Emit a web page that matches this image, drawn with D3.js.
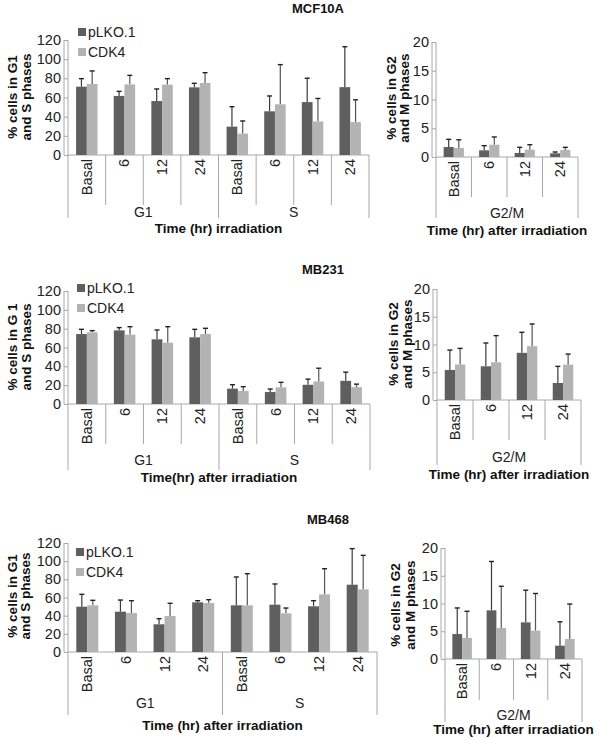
<!DOCTYPE html>
<html>
<head>
<meta charset="utf-8">
<script src="https://cdn.jsdelivr.net/npm/d3@7"></script>
<style>
  html, body { margin: 0; padding: 0; background: #fff; }
  svg { display: block; font-family: "Liberation Sans", Arial, sans-serif; }
</style>
</head>
<body>
<svg id="chart" width="600" height="738"></svg>
<script>
// ---------------- DATA ----------------
const cellLines = ["MCF10A", "MB231", "MB468"];
const seriesNames = ["pLKO.1", "CDK4"];
const timepoints = ["Basal", "6", "12", "24"];
const leftPhases = ["G1", "S"];
const rightPhases = ["G2/M"];
const leftTicks = [0, 20, 40, 60, 80, 100, 120];
const rightTicks = [0, 5, 10, 15, 20];

// G1 + S (8 values: G1 Basal,6,12,24, S Basal,6,12,24)
const mcf10a_pLKO = [71.3, 61.6, 56.3, 70.6, 29.6, 45.6, 55.2, 70.8];
const mcf10a_pLKO_err = [8.4, 4.8, 12.6, 4.2, 20.8, 16.0, 24.9, 42.2];
const mcf10a_CDK4 = [74.1, 73.7, 73.4, 75.1, 22.3, 52.9, 35.0, 34.3];
const mcf10a_CDK4_err = [13.6, 9.4, 6.3, 10.8, 13.2, 41.4, 24.0, 23.3];
const mcf10a_G2M_pLKO = [1.74, 1.16, 0.70, 0.64];
const mcf10a_G2M_pLKO_err = [1.33, 0.81, 0.98, 0.23];
const mcf10a_G2M_CDK4 = [1.57, 2.14, 1.28, 1.22];
const mcf10a_G2M_CDK4_err = [1.43, 1.34, 0.86, 0.46];

const mb231_pLKO = [74.3, 78.2, 68.7, 70.8, 16.3, 12.7, 20.4, 24.6];
const mb231_pLKO_err = [5.0, 2.9, 9.9, 8.5, 4.2, 3.2, 6.0, 9.2];
const mb231_CDK4 = [76.1, 73.6, 65.1, 74.3, 13.8, 17.7, 23.9, 17.9];
const mb231_CDK4_err = [1.8, 8.5, 17.0, 6.1, 4.6, 5.3, 14.1, 3.2];
const mb231_G2M_pLKO = [5.4, 6.07, 8.5, 3.06];
const mb231_G2M_pLKO_err = [3.6, 4.2, 3.7, 3.0];
const mb231_G2M_CDK4 = [6.4, 6.8, 9.7, 6.37];
const mb231_G2M_CDK4_err = [2.9, 4.8, 4.0, 1.9];

const mb468_pLKO = [49.9, 44.4, 30.5, 54.7, 51.4, 52.1, 50.3, 74.1];
const mb468_pLKO_err = [13.6, 12.8, 6.2, 1.8, 31.2, 22.8, 6.2, 39.7];
const mb468_CDK4 = [51.4, 42.9, 39.6, 53.9, 51.4, 42.6, 63.5, 69.0];
const mb468_CDK4_err = [5.5, 13.6, 14.0, 3.7, 34.8, 5.8, 28.2, 37.4];
const mb468_G2M_pLKO = [4.5, 8.77, 6.6, 2.4];
const mb468_G2M_pLKO_err = [4.7, 8.8, 5.8, 4.3];
const mb468_G2M_CDK4 = [3.8, 5.6, 5.1, 3.6];
const mb468_G2M_CDK4_err = [4.8, 7.5, 6.7, 6.3];

// ---------------- LAYOUT ----------------
const colors = { "pLKO.1": "#5f5f5f", "CDK4": "#b3b3b3" };
const errColors = { "pLKO.1": "#3a3a3a", "CDK4": "#555555" };
const axisColor = "#a8a8a8";

const rows = [
  {
    name: cellLines[0], titleX: 318, titleY: 8,
    left: { vals: [mcf10a_pLKO, mcf10a_CDK4], errs: [mcf10a_pLKO_err, mcf10a_CDK4_err],
      x0: 68, x1: 369, yTop: 40, y0: 155, sepBottom: 205, outerBottom: 218, minorSeps: true,
      groupY: 212, axisTitle: "Time (hr) irradiation", axisTitleY: 228,
      yTitle: ["% cells in G1", "and S phases"], yTitleX: [12, 26], yTitleY: 97 },
    right: { vals: [mcf10a_G2M_pLKO, mcf10a_G2M_CDK4], errs: [mcf10a_G2M_pLKO_err, mcf10a_G2M_CDK4_err],
      x0: 436, x1: 578, yTop: 42, y0: 157, sepBottom: 197, outerBottom: 218,
      groupY: 213, axisTitle: "Time (hr) after irradiation", axisTitleY: 230,
      yTitle: ["% cells in G2", "and M phases"], yTitleX: [391, 404], yTitleY: 98 },
    legend: { x: 78, y: [32, 52] }
  },
  {
    name: cellLines[1], titleX: 323, titleY: 269,
    left: { vals: [mb231_pLKO, mb231_CDK4], errs: [mb231_pLKO_err, mb231_CDK4_err],
      x0: 68, x1: 370, yTop: 291, y0: 404, sepBottom: 444, outerBottom: 470, minorSeps: true,
      groupY: 460, axisTitle: "Time(hr) after irradiation", axisTitleY: 477,
      yTitle: ["% cells in G 1", "and S phases"], yTitleX: [12, 26], yTitleY: 347 },
    right: { vals: [mb231_G2M_pLKO, mb231_G2M_CDK4], errs: [mb231_G2M_pLKO_err, mb231_G2M_CDK4_err],
      x0: 437, x1: 581, yTop: 289, y0: 400, sepBottom: 440, outerBottom: 465,
      groupY: 457, axisTitle: "Time (hr) after irradiation", axisTitleY: 474,
      yTitle: ["% cells in G2", "and M phases"], yTitleX: [393, 407], yTitleY: 344 },
    legend: { x: 77, y: [288, 308] }
  },
  {
    name: cellLines[2], titleX: 328, titleY: 519,
    left: { vals: [mb468_pLKO, mb468_CDK4], errs: [mb468_pLKO_err, mb468_CDK4_err],
      x0: 68, x1: 377, yTop: 543, y0: 652, sepBottom: 715, outerBottom: 715, minorSeps: false,
      groupY: 703, axisTitle: "Time (hr) after irradiation", axisTitleY: 725,
      yTitle: ["% cells in G1", "and S phases"], yTitleX: [12, 25], yTitleY: 596 },
    right: { vals: [mb468_G2M_pLKO, mb468_G2M_CDK4], errs: [mb468_G2M_pLKO_err, mb468_G2M_CDK4_err],
      x0: 445, x1: 582, yTop: 548, y0: 659, sepBottom: 700, outerBottom: 722,
      groupY: 715, axisTitle: "Time (hr) after irradiation", axisTitleY: 729,
      yTitle: ["% cells in G2", "and M phases"], yTitleX: [395, 410], yTitleY: 605 },
    legend: { x: 76, y: [552, 572] }
  }
];

const svg = d3.select("#chart");

function drawPanel(p, phases, maxV, ticks) {
  const g = svg.append("g");
  const cats = [];
  phases.forEach(ph => timepoints.forEach(t => cats.push(ph + "|" + t)));
  const x = d3.scaleBand().domain(cats).range([p.x0, p.x1]).padding(0);
  const bw = x.bandwidth();
  const inner = d3.scaleBand().domain(seriesNames).range([0, bw * 0.57]).padding(0);
  const off = (bw - bw * 0.57) / 2;
  const y = d3.scaleLinear().domain([0, maxV]).range([p.y0, p.yTop]);

  // y axis
  const ax = g.append("g").attr("transform", `translate(${p.x0},0)`)
    .call(d3.axisLeft(y).tickValues(ticks).tickSize(4).tickPadding(3).tickFormat(d3.format("d")));
  ax.select(".domain").attr("stroke", axisColor).attr("d", `M-4,${p.y0}V${p.yTop}`);
  ax.selectAll(".tick line").attr("stroke", axisColor);
  ax.selectAll(".tick text").attr("font-size", 14.5).attr("fill", "#222")
    .attr("font-family", "'Liberation Sans', Arial, sans-serif");
  g.append("line").attr("x1", p.x0).attr("x2", p.x0).attr("y1", p.yTop).attr("y2", p.outerBottom)
    .attr("stroke", axisColor);
  g.append("line").attr("x1", p.x0).attr("x2", p.x1).attr("y1", p.y0).attr("y2", p.y0)
    .attr("stroke", axisColor);
  g.append("line").attr("x1", p.x1).attr("x2", p.x1).attr("y1", p.y0).attr("y2", p.outerBottom)
    .attr("stroke", axisColor);
  // separators
  cats.forEach((c, i) => {
    if (i === 0) return;
    const isGroup = i % timepoints.length === 0;
    if (!isGroup && p.minorSeps === false) return;
    g.append("line").attr("x1", x(c)).attr("x2", x(c)).attr("y1", p.y0)
      .attr("y2", isGroup ? p.outerBottom : p.sepBottom).attr("stroke", axisColor);
  });
  // category labels
  cats.forEach(c => {
    const cx = x(c) + bw / 2;
    g.append("text").text(c.split("|")[1])
      .attr("transform", `translate(${cx},${p.y0 + 4}) rotate(-90)`)
      .attr("text-anchor", "end").attr("dominant-baseline", "central")
      .attr("font-size", 14.5).attr("fill", "#222");
  });
  // group labels
  phases.forEach(ph => {
    const first = x(ph + "|" + timepoints[0]);
    const last = x(ph + "|" + timepoints[timepoints.length - 1]) + bw;
    g.append("text").text(ph).attr("x", (first + last) / 2).attr("y", p.groupY)
      .attr("text-anchor", "middle").attr("dominant-baseline", "central")
      .attr("font-size", 14).attr("fill", "#222");
  });
  // axis title
  g.append("text").text(p.axisTitle).attr("x", (p.x0 + p.x1) / 2).attr("y", p.axisTitleY)
    .attr("text-anchor", "middle").attr("dominant-baseline", "central")
    .attr("font-size", 13.5).attr("font-weight", "bold").attr("fill", "#111");
  // y titles
  p.yTitle.forEach((t, k) => {
    g.append("text").text(t)
      .attr("transform", `translate(${p.yTitleX[k]},${p.yTitleY}) rotate(-90)`)
      .attr("text-anchor", "middle").attr("dominant-baseline", "central")
      .attr("font-size", 13.5).attr("font-weight", "bold").attr("fill", "#111");
  });
  // bars and error bars
  seriesNames.forEach((s, si) => {
    const vals = p.vals[si], errs = p.errs[si];
    cats.forEach((c, i) => {
      const bx = x(c) + off + inner(s);
      const w = inner.bandwidth();
      const top = y(vals[i]);
      const etop = y(vals[i] + errs[i]);
      const cx = bx + w / 2;
      g.append("line").attr("x1", cx).attr("x2", cx).attr("y1", top).attr("y2", etop)
        .attr("stroke", errColors[s]).attr("stroke-width", 1.2);
      g.append("line").attr("x1", cx - 2.5).attr("x2", cx + 2.5).attr("y1", etop).attr("y2", etop)
        .attr("stroke", "#222").attr("stroke-width", 1.4);
      g.append("rect").attr("x", bx).attr("y", top).attr("width", w).attr("height", p.y0 - top)
        .attr("fill", colors[s]);
    });
  });
}

rows.forEach(r => {
  svg.append("text").text(r.name).attr("x", r.titleX).attr("y", r.titleY)
    .attr("text-anchor", "middle").attr("dominant-baseline", "central")
    .attr("font-size", 13).attr("font-weight", "bold").attr("fill", "#111");
  drawPanel(r.left, leftPhases, 120, leftTicks);
  drawPanel(r.right, rightPhases, 20, rightTicks);
  seriesNames.forEach((s, i) => {
    svg.append("rect").attr("x", r.legend.x).attr("y", r.legend.y[i] - 4).attr("width", 8).attr("height", 8)
      .attr("fill", colors[s]);
    svg.append("text").text(s).attr("x", r.legend.x + 10).attr("y", r.legend.y[i])
      .attr("dominant-baseline", "central").attr("font-size", 14).attr("fill", "#222");
  });
});
</script>
</body>
</html>
